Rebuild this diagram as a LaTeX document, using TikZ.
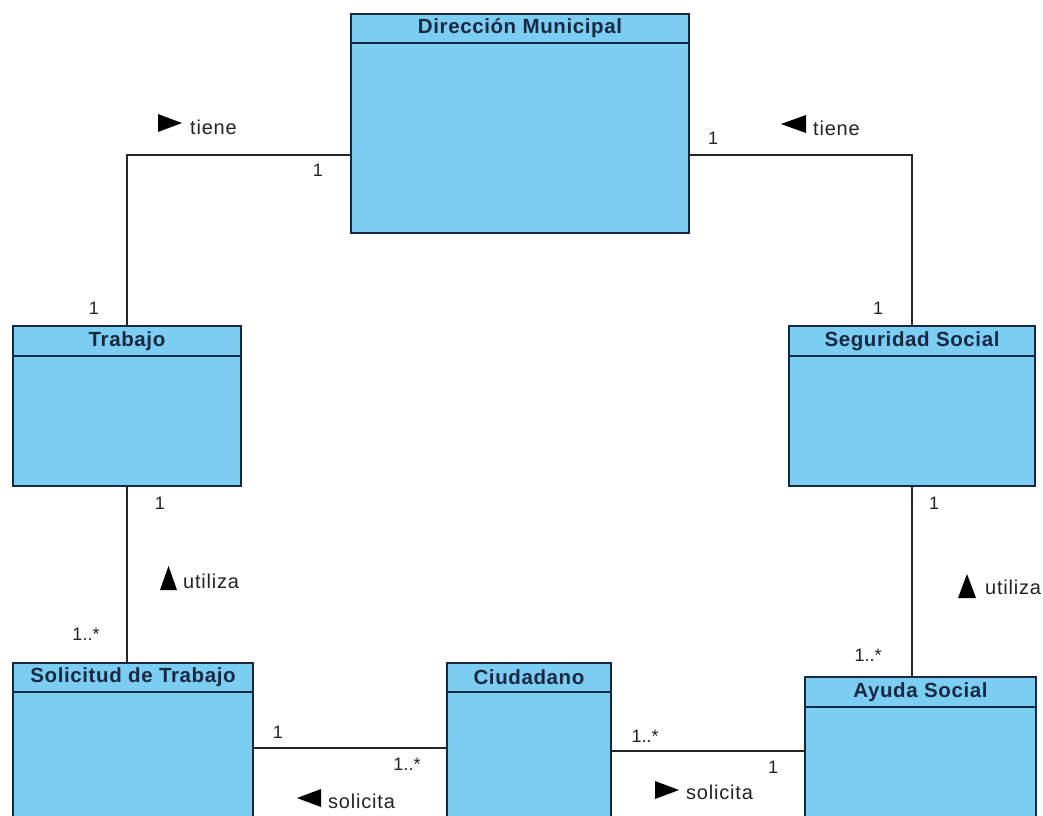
\documentclass[tikz,border=0pt]{standalone}
\usepackage{fontspec}
\setmainfont{Liberation Sans}
\newfontfamily\headfont{Liberation Sans}[LetterSpace=3]
\newfontfamily\rolefont{Liberation Sans}[LetterSpace=4]
\usetikzlibrary{calc,positioning}
\definecolor{umlblue}{RGB}{123,206,242}
\definecolor{umlnavy}{RGB}{25,40,66}
\definecolor{labelgray}{RGB}{35,35,35}

\tikzset{
  classhead/.style={draw=umlnavy, line width=1.5pt, fill=umlblue, text=umlnavy,
    font=\headfont\fontsize{20.5}{20.5}\selectfont\bfseries, inner sep=0pt, outer sep=0pt, anchor=north west},
  classbody/.style={draw=umlnavy, line width=1.5pt, fill=umlblue, inner sep=0pt, outer sep=0pt, anchor=north west},
  assoc/.style={draw=black!85, line width=1.1pt},
  mult/.style={font=\fontsize{18}{18}\selectfont, text=labelgray, inner sep=0pt},
  role/.style={font=\rolefont\fontsize{20}{20}\selectfont, text=labelgray, inner sep=0pt, anchor=west},
  marker/.style={fill=black}
}

\begin{document}
\begin{tikzpicture}[x=1pt,y=-1pt]
    \clip (0,0) rectangle (1043,815);
    \fill[white] (0,0) rectangle (1043,815);
    %Classes
    \node[classhead, minimum width=338pt, minimum height=29pt] (dirH) at (351,14) {Dirección Municipal};
    \node[classbody, minimum width=338pt, minimum height=190pt] (dir) at (dirH.south west) {};
    \node[classhead, minimum width=228pt, minimum height=30pt] (trabH) at (13,326) {Trabajo};
    \node[classbody, minimum width=228pt, minimum height=130pt] (trab) at (trabH.south west) {};
    \node[classhead, minimum width=246pt, minimum height=30pt] (segH) at (789,326) {Seguridad Social};
    \node[classbody, minimum width=246pt, minimum height=130pt] (seg) at (segH.south west) {};
    \node[classhead, minimum width=240pt, minimum height=29pt] (solH) at (13,663) {Solicitud de Trabajo};
    \node[classbody, minimum width=240pt, minimum height=150pt] (sol) at (solH.south west) {};
    \node[classhead, minimum width=164pt, minimum height=29pt] (ciuH) at (447,663) {Ciudadano};
    \node[classbody, minimum width=164pt, minimum height=150pt] (ciu) at (ciuH.south west) {};
    \node[classhead, minimum width=231pt, minimum height=30pt] (ayuH) at (805,677) {Ayuda Social};
    \node[classbody, minimum width=231pt, minimum height=150pt] (ayu) at (ayuH.south west) {};
    %Associations
    \draw[assoc] (trabH.north) |- ([yshift=-17pt]dir.west);
    \draw[assoc] (segH.north) |- ([yshift=-17pt]dir.east);
    \draw[assoc] (trab.south) -- (trab.south |- solH.north);
    \draw[assoc] (seg.south) -- (seg.south |- ayuH.north);
    \draw[assoc] ($(sol.north east)+(0,56)$) coordinate (solE) -- (solE -| ciu.west);
    \draw[assoc] ($(ciu.north east)+(0,59)$) coordinate (ciuE) -- (ciuE -| ayu.west);
    %Multiplicities
    \node[mult] (m1) at (318,170) {1};
    \node[mult] (m2) at (94,308) {1};
    \node[mult] (m3) at (713,138) {1};
    \node[mult] (m4) at (878,308) {1};
    \node[mult] (m5) at (160,503) {1};
    \node[mult] (m6) at (86,634) {1..*};
    \node[mult] (m7) at (934,503) {1};
    \node[mult] (m8) at (868,655) {1..*};
    \node[mult] (m9) at (278,732) {1};
    \node[mult] (m10) at (407,764) {1..*};
    \node[mult] (m11) at (645,736) {1..*};
    \node[mult] (m12) at (773,767) {1};
    %Roles
    \fill[marker] (158,114) -- (182,123) -- (158,132) -- cycle;
    \node[role] (r1) at (190,127) {tiene};
    \fill[marker] (806,115) -- (781,124) -- (806,133) -- cycle;
    \node[role] (r2) at (813,128) {tiene};
    \fill[marker] (160,590) -- (168.5,566) -- (177,590) -- cycle;
    \node[role] (r3) at (183,581) {utiliza};
    \fill[marker] (958,598) -- (967,574) -- (976,598) -- cycle;
    \node[role] (r4) at (985,587) {utiliza};
    \fill[marker] (321,789) -- (297,798) -- (321,807) -- cycle;
    \node[role] (r5) at (328,801) {solicita};
    \fill[marker] (655,781) -- (679,790) -- (655,799) -- cycle;
    \node[role] (r6) at (686,792) {solicita};
\end{tikzpicture}
\end{document}
